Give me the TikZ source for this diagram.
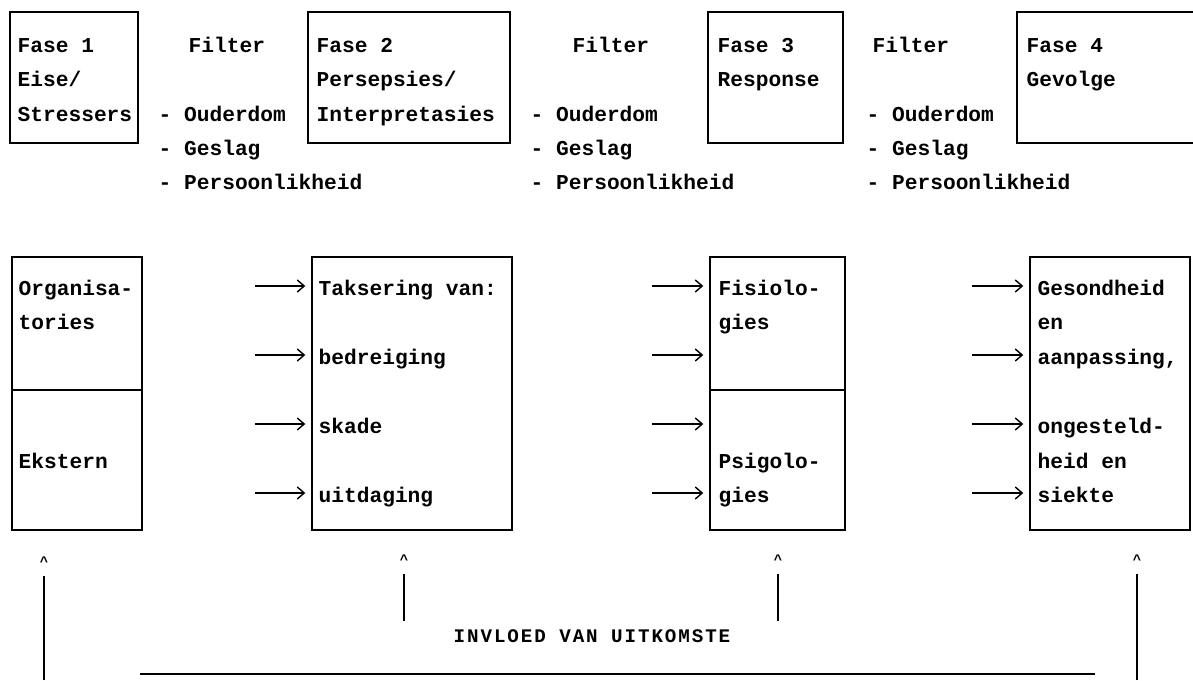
\documentclass[tikz,border=0pt]{standalone}
\usepackage{fontspec}
\setmonofont{Liberation Mono}
\usetikzlibrary{arrows.meta,fit}

\tikzset{
  tw/.style={font=\ttfamily\bfseries\fontsize{10.6}{12}\selectfont, anchor=base west, inner sep=0pt},
  fase/.style={draw, inner sep=0pt},
  caret/.style={font=\ttfamily\bfseries\fontsize{7}{8}\selectfont, inner sep=0pt},
  caption/.style={font=\ttfamily\bfseries\fontsize{9.6}{11}\selectfont\addfontfeature{LetterSpace=10}, anchor=base, inner sep=0pt},
}

\begin{document}
\begin{tikzpicture}[x=0.5pt,y=-0.5pt,line width=0.7pt,>={Straight Barb[length=3.5pt,width=6pt]}]
\useasboundingbox (0,0) rectangle (1193,680);

% top row: phases
\node[fase, fit={(10,12) (138,143)}] (f1) {};
\node[fase, fit={(308,12) (510,143)}] (f2) {};
\node[fase, fit={(708,12) (843,143)}] (f3) {};
\node[fase, fit={(1017,12) (1220,143)}] (f4) {};

\node[tw] (f1a) at (17,52) {Fase 1};
\node[tw] (f1b) at (17,86) {Eise/};
\node[tw] (f1c) at (17,121) {Stressers};
\node[tw] (f2a) at (316,52) {Fase 2};
\node[tw] (f2b) at (316,86) {Persepsies/};
\node[tw] (f2c) at (316,121) {Interpretasies};
\node[tw] (f3a) at (717,52) {Fase 3};
\node[tw] (f3b) at (717,86) {Response};
\node[tw] (f4a) at (1026,52) {Fase 4};
\node[tw] (f4b) at (1026,86) {Gevolge};

% filters
\node[tw] (fl1) at (188,52) {Filter};
\node[tw] (fl1a) at (158,121) {- Ouderdom};
\node[tw] (fl1b) at (158,155) {- Geslag};
\node[tw] (fl1c) at (158,189) {- Persoonlikheid};
\node[tw] (fl2) at (572,52) {Filter};
\node[tw] (fl2a) at (530,121) {- Ouderdom};
\node[tw] (fl2b) at (530,155) {- Geslag};
\node[tw] (fl2c) at (530,189) {- Persoonlikheid};
\node[tw] (fl3) at (872,52) {Filter};
\node[tw] (fl3a) at (866,121) {- Ouderdom};
\node[tw] (fl3b) at (866,155) {- Geslag};
\node[tw] (fl3c) at (866,189) {- Persoonlikheid};

% bottom row
\node[fase, fit={(12,257) (142,530)}] (bA) {};
\node[fase, fit={(312,257) (512,530)}] (bB) {};
\node[fase, fit={(710,257) (845,530)}] (bC) {};
\node[fase, fit={(1030,257) (1190,530)}] (bD) {};

\coordinate (dA) at (12,390);
\draw (dA) -- (dA -| bA.east);
\coordinate (dC) at (710,390);
\draw (dC) -- (dC -| bC.east);

\node[tw] (a1) at (18,295) {Organisa-};
\node[tw] (a2) at (18,329) {tories};
\node[tw] (a3) at (18,468) {Ekstern};
\node[tw] (b1) at (318,295) {Taksering van:};
\node[tw] (b2) at (318,364) {bedreiging};
\node[tw] (b3) at (318,433) {skade};
\node[tw] (b4) at (318,502) {uitdaging};
\node[tw] (c1) at (718,295) {Fisiolo-};
\node[tw] (c2) at (718,329) {gies};
\node[tw] (c3) at (718,468) {Psigolo-};
\node[tw] (c4) at (718,502) {gies};
\node[tw] (d1) at (1037,295) {Gesondheid};
\node[tw] (d2) at (1037,329) {en};
\node[tw] (d3) at (1037,364) {aanpassing,};
\node[tw] (d4) at (1037,433) {ongesteld-};
\node[tw] (d5) at (1037,468) {heid en};
\node[tw] (d6) at (1037,502) {siekte};

% arrows into the boxes
\foreach \y in {286,355,424,493} {
  \coordinate (pB) at (255,\y);
  \draw[->,shorten >=3pt] (pB) -- (pB -| bB.west);
  \coordinate (pC) at (652,\y);
  \draw[->,shorten >=3pt] (pC) -- (pC -| bC.west);
  \coordinate (pD) at (972,\y);
  \draw[->,shorten >=3pt] (pD) -- (pD -| bD.west);
}

% feedback
\node[caret] (k1) at (44,562) {\textasciicircum};
\node[caret] (k2) at (404,560) {\textasciicircum};
\node[caret] (k3) at (778,560) {\textasciicircum};
\node[caret] (k4) at (1137,560) {\textasciicircum};
\coordinate (e1) at (44,680);
\coordinate (e2) at (404,621);
\coordinate (e3) at (778,621);
\coordinate (e4) at (1137,680);
\draw[shorten >=4pt] (e1) -- (k1.south);
\draw[shorten >=4pt] (e2) -- (k2.south);
\draw[shorten >=4pt] (e3) -- (k3.south);
\draw[shorten >=4pt] (e4) -- (k4.south);
\coordinate (h1) at (140,674);
\coordinate (h2) at (1095,674);
\draw (h1) -- (h2);
\node[caption] (inv) at (592,642) {INVLOED VAN UITKOMSTE};
\end{tikzpicture}
\end{document}
